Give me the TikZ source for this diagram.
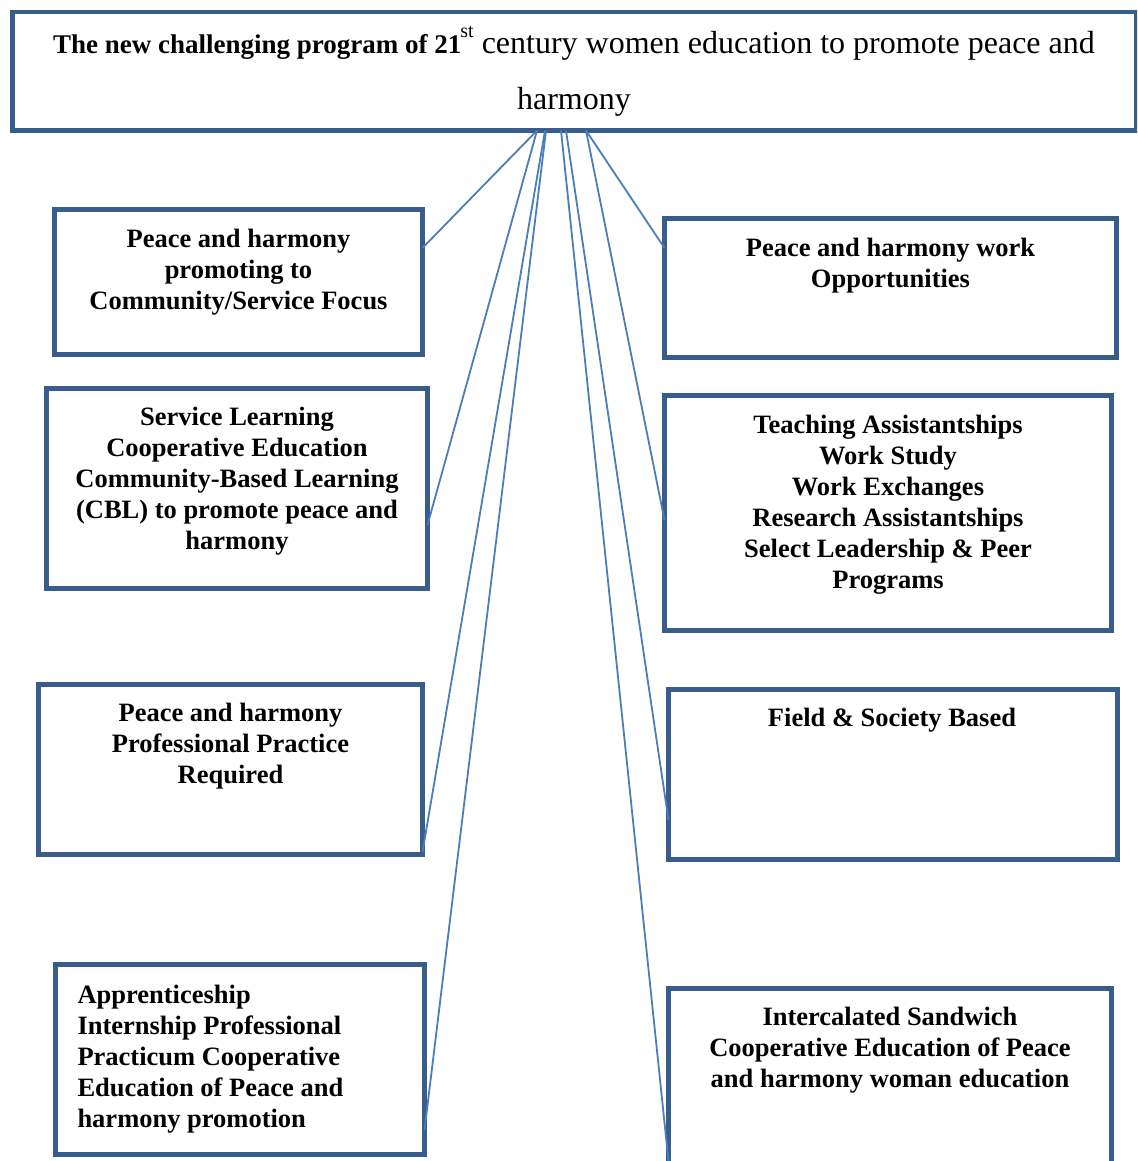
\documentclass[tikz,border=0pt]{standalone}
\usepackage{fontspec}
\setmainfont{Liberation Serif}
\definecolor{boxblue}{RGB}{56,93,138}
\definecolor{linkblue}{RGB}{74,126,187}
\begin{document}
\begin{tikzpicture}[x=1pt,y=-1pt,
  frame/.style={draw=boxblue, line width=4.5pt, inner sep=0pt, outer sep=0pt, rectangle},
  boxtext/.style={inner sep=0pt, outer sep=0pt, align=center, anchor=north,
    font=\fontsize{26.5}{31}\selectfont\bfseries},
  conn/.style={draw=linkblue, line width=1.8pt}]
\clip (0,0) rectangle (1137,1161);
\fill[white] (0,0) rectangle (1137,1161);

% top box
\node[frame, minimum width=1123.5pt, minimum height=118.5pt] (top) at (574.25,71.25) {};
\node[inner sep=0pt, outer sep=0pt, anchor=north, align=center,
      font=\fontsize{32}{56}\selectfont] (title) at (574,31)
  {{\fontsize{27}{56}\selectfont\bfseries The new challenging program of 21}\kern-1pt\smash{\raisebox{16pt}{\fontsize{20}{20}\selectfont st}} century women education to promote peace and\\harmony};

% left boxes
\node[frame, minimum width=368pt, minimum height=145pt] (l1) at (238.5,282) {};
\node[boxtext] (l1t) at (238.5,229.5) {Peace and harmony\\promoting to\\Community/Service Focus};

\node[frame, minimum width=381pt, minimum height=200pt] (l2) at (237,488.5) {};
\node[boxtext] (l2t) at (237,407.5) {Service Learning\\Cooperative Education\\Community-Based Learning\\(CBL) to promote peace and\\harmony};

\node[frame, minimum width=384pt, minimum height=170pt] (l3) at (230.5,769.5) {};
\node[boxtext] (l3t) at (230.5,703.5) {Peace and harmony\\Professional Practice\\Required};

\node[frame, minimum width=369pt, minimum height=190pt] (l4) at (240,1059.5) {};
\node[boxtext, align=left, anchor=north west] (l4t) at (77.5,985) {Apprenticeship\\Internship Professional\\Practicum Cooperative\\Education of Peace and\\harmony promotion};

% right boxes
\node[frame, minimum width=452pt, minimum height=139pt] (r1) at (890.5,288) {};
\node[boxtext] (r1t) at (890.5,238.5) {Peace and harmony work\\Opportunities};

\node[frame, minimum width=447pt, minimum height=235pt] (r2) at (888,513) {};
\node[boxtext] (r2t) at (888,415.5) {Teaching Assistantships\\Work Study\\Work Exchanges\\Research Assistantships\\Select Leadership \& Peer\\Programs};

\node[frame, minimum width=449pt, minimum height=170pt] (r3) at (893,774.5) {};
\node[boxtext] (r3t) at (892,708.5) {Field \& Society Based};

\node[frame, minimum width=443pt, minimum height=186.5pt] (r4) at (890,1081.75) {};
\node[boxtext] (r4t) at (890,1007.5) {Intercalated Sandwich\\Cooperative Education of Peace\\and harmony woman education};

% connectors
\draw[conn] ([xshift=-37.25pt]top.south) -- ([yshift=34pt]l1.east);
\draw[conn] ([xshift=-37.25pt]top.south) -- ([yshift=-36.5pt]l2.east);
\draw[conn] ([xshift=-29.25pt]top.south) -- ([yshift=-82.5pt]l3.east);
\draw[conn] ([xshift=-28.25pt]top.south) -- ([yshift=-70.5pt]l4.east);
\draw[conn] ([xshift=-13.25pt]top.south) -- ([yshift=-79.25pt]r4.west);
\draw[conn] ([xshift=-8.25pt]top.south) -- ([yshift=-45.5pt]r3.west);
\draw[conn] ([xshift=11.75pt]top.south) -- ([yshift=-7pt]r2.west);
\draw[conn] ([xshift=11.75pt]top.south) -- ([yshift=40pt]r1.west);
\end{tikzpicture}
\end{document}
